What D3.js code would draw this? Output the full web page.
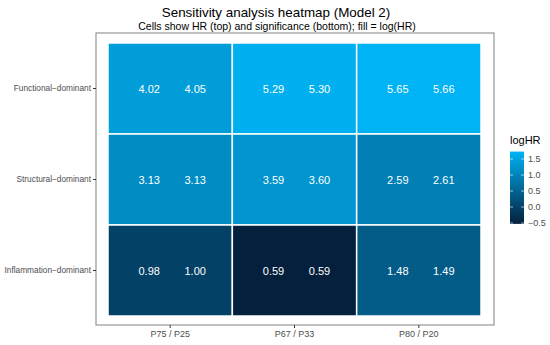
<!DOCTYPE html>
<html>
<head>
<meta charset="utf-8">
<script src="https://cdn.jsdelivr.net/npm/d3@7"></script>
<style>
  body { margin: 0; background: #fff; }
  svg { font-family: "Liberation Sans", Arial, sans-serif; }
</style>
</head>
<body>
<svg id="chart" width="550" height="345"></svg>
<script>
// data
const thresholds = ["P75 / P25", "P67 / P33", "P80 / P20"];
const phenotypes = ["Functional\u2212dominant", "Structural\u2212dominant", "Inflammation\u2212dominant"];
// HR (left number) per phenotype row, per threshold column
const hrValues = [
  [4.02, 5.29, 5.65],
  [3.13, 3.59, 2.59],
  [0.98, 0.59, 1.48]
];
// second number shown in each cell
const sigValues = [
  [4.05, 5.30, 5.66],
  [3.13, 3.60, 2.61],
  [1.00, 0.59, 1.49]
];
const legendTicks = [-0.5, 0.0, 0.5, 1.0, 1.5];

function renderHeatmap() {
    const svg = d3.select("#chart");
    svg.selectAll("*").remove();

    const panel = { left: 96, right: 494, top: 33, bottom: 325 };

    const cells = [];
    phenotypes.forEach((p, i) => {
        thresholds.forEach((t, j) => {
            cells.push({ row: p, col: t, hr: hrValues[i][j], sig: sigValues[i][j], logHR: Math.log(hrValues[i][j]) });
        });
    });

    const x = d3.scaleBand().domain(thresholds).range([108, 481]);
    const y = d3.scaleBand().domain(phenotypes).range([43, 316]);

    const extent = d3.extent(cells, d => d.logHR);
    const color = d3.scaleLinear()
        .domain(extent)
        .range(["#04203d", "#00b3f4"])
        .interpolate(d3.interpolateRgb);

    // titles
    svg.append("text")
        .attr("x", 276).attr("y", 17)
        .attr("text-anchor", "middle")
        .attr("font-size", 13.4)
        .attr("fill", "#000")
        .text("Sensitivity analysis heatmap (Model 2)");
    svg.append("text")
        .attr("x", 277).attr("y", 30)
        .attr("text-anchor", "middle")
        .attr("font-size", 10.5)
        .attr("fill", "#000")
        .text("Cells show HR (top) and significance (bottom); fill = log(HR)");

    // tiles
    svg.append("g").selectAll("rect")
        .data(cells)
        .enter().append("rect")
        .attr("x", d => x(d.col))
        .attr("y", d => y(d.row))
        .attr("width", x.bandwidth())
        .attr("height", y.bandwidth())
        .attr("fill", d => color(d.logHR))
        .attr("stroke", "#fff")
        .attr("stroke-width", 1.5);

    const labels = svg.append("g")
        .attr("fill", "#fff")
        .attr("font-size", 11)
        .attr("text-anchor", "middle");
    labels.selectAll(".hr")
        .data(cells)
        .enter().append("text")
        .attr("class", "hr")
        .attr("x", d => x(d.col) + x.bandwidth() / 2 - 21)
        .attr("y", d => y(d.row) + y.bandwidth() / 2 + 4)
        .text(d => d.hr.toFixed(2));
    labels.selectAll(".sig")
        .data(cells)
        .enter().append("text")
        .attr("class", "sig")
        .attr("x", d => x(d.col) + x.bandwidth() / 2 + 25)
        .attr("y", d => y(d.row) + y.bandwidth() / 2 + 4)
        .text(d => d.sig.toFixed(2));

    // panel border
    svg.append("rect")
        .attr("x", panel.left).attr("y", panel.top)
        .attr("width", panel.right - panel.left)
        .attr("height", panel.bottom - panel.top)
        .attr("fill", "none")
        .attr("stroke", "#8c8c8c")
        .attr("stroke-width", 1.1);

    // axes
    const xAxis = svg.append("g")
        .attr("transform", `translate(0,${panel.bottom})`)
        .call(d3.axisBottom(x).tickSize(3).tickPadding(3));
    const yAxis = svg.append("g")
        .attr("transform", `translate(${panel.left},0)`)
        .call(d3.axisLeft(y).tickSize(3).tickPadding(2));
    [xAxis, yAxis].forEach(a => {
        a.select(".domain").remove();
        a.selectAll("line").attr("stroke", "#333");
        a.selectAll("text")
            .attr("fill", "#4d4d4d")
            .attr("font-family", "Liberation Sans, Arial, sans-serif");
    });
    xAxis.selectAll("text").attr("font-size", 9);
    yAxis.selectAll("text").attr("font-size", 8.3);

    // legend
    const legendY = d3.scaleLinear().domain([-0.5, 1.5]).range([223, 159]);
    const grad = svg.append("defs").append("linearGradient")
        .attr("id", "legendGrad")
        .attr("x1", 0).attr("y1", 1).attr("x2", 0).attr("y2", 0);
    d3.range(0, 1.0001, 0.1).forEach(t => {
        grad.append("stop")
            .attr("offset", t)
            .attr("stop-color", color(extent[0] + t * (extent[1] - extent[0])));
    });
    svg.append("text")
        .attr("x", 510).attr("y", 144)
        .attr("font-size", 11)
        .attr("fill", "#000")
        .text("logHR");
    svg.append("rect")
        .attr("x", 510)
        .attr("y", legendY(extent[1]))
        .attr("width", 14)
        .attr("height", legendY(extent[0]) - legendY(extent[1]))
        .attr("fill", "url(#legendGrad)");
    const lg = svg.append("g");
    legendTicks.forEach(v => {
        lg.append("line")
            .attr("x1", 510).attr("x2", 513)
            .attr("y1", legendY(v)).attr("y2", legendY(v))
            .attr("stroke", "#fff").attr("stroke-opacity", 0.6);
        lg.append("line")
            .attr("x1", 521).attr("x2", 524)
            .attr("y1", legendY(v)).attr("y2", legendY(v))
            .attr("stroke", "#fff").attr("stroke-opacity", 0.6);
        lg.append("text")
            .attr("x", 528).attr("y", legendY(v) + 3)
            .attr("font-size", 9)
            .attr("fill", "#4d4d4d")
            .text(d3.format(".1f")(v).replace("-", "\u2212"));
    });
}

renderHeatmap();
</script>
</body>
</html>
